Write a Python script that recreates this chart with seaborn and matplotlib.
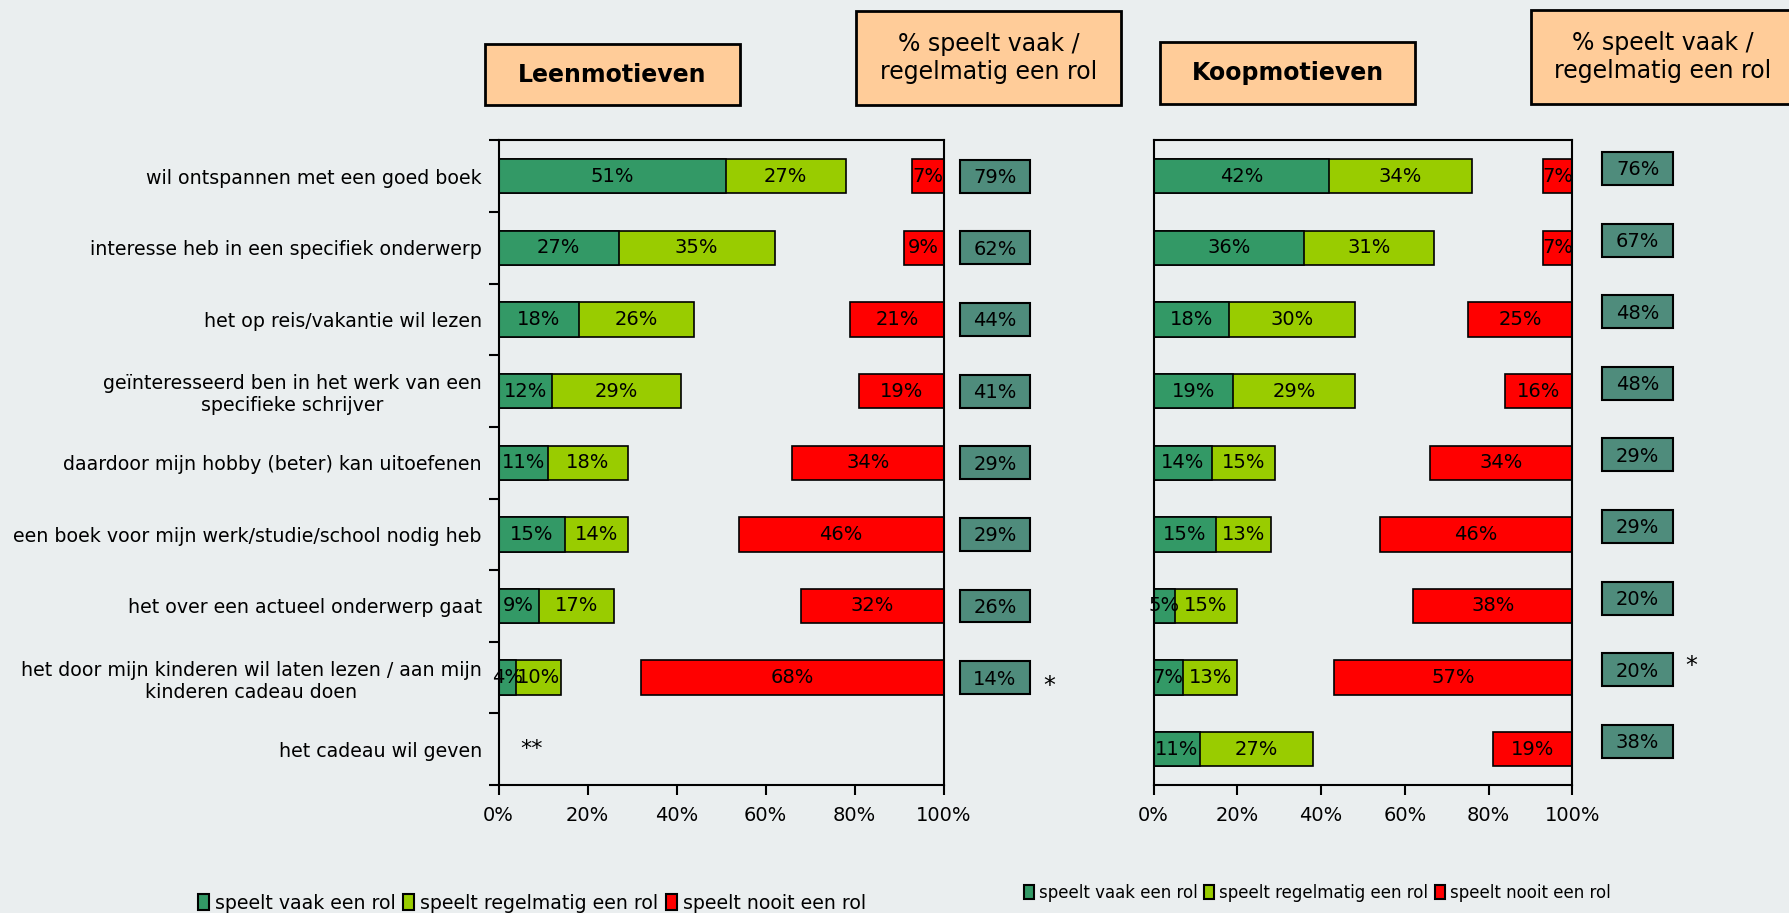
import numpy as np
import pandas as pd
import matplotlib
matplotlib.use("Agg")
import matplotlib.pyplot as plt
import matplotlib.transforms as mtrans
from matplotlib.patches import Rectangle, Patch
import seaborn as sns

# ---------------- data ----------------
categories = [
    "wil ontspannen met een goed boek",
    "interesse heb in een specifiek onderwerp",
    "het op reis/vakantie wil lezen",
    "geïnteresseerd ben in het werk van een\nspecifieke schrijver",
    "daardoor mijn hobby (beter) kan uitoefenen",
    "een boek voor mijn werk/studie/school nodig heb",
    "het over een actueel onderwerp gaat",
    "het door mijn kinderen wil laten lezen / aan mijn\nkinderen cadeau doen",
    "het cadeau wil geven",
]
series_names = ["speelt vaak een rol", "speelt regelmatig een rol", "speelt nooit een rol"]

leen_vaak = [51, 27, 18, 12, 11, 15, 9, 4, np.nan]
leen_regelmatig = [27, 35, 26, 29, 18, 14, 17, 10, np.nan]
leen_nooit = [7, 9, 21, 19, 34, 46, 32, 68, np.nan]
leen_totaal = [79, 62, 44, 41, 29, 29, 26, 14, np.nan]
leen_marks = ["", "", "", "", "", "", "", "*", ""]

koop_vaak = [42, 36, 18, 19, 14, 15, 5, 7, 11]
koop_regelmatig = [34, 31, 30, 29, 15, 13, 15, 13, 27]
koop_nooit = [7, 7, 25, 16, 34, 46, 38, 57, 19]
koop_totaal = [76, 67, 48, 48, 29, 29, 20, 20, 38]
koop_marks = ["", "", "", "", "", "", "", "*", ""]

xticks = [0, 20, 40, 60, 80, 100]
title_leen = "Leenmotieven"
title_koop = "Koopmotieven"
title_summary = "% speelt vaak /\nregelmatig een rol"
no_data_note = "**"

# ---------------- style ----------------
DARK = "#339966"
LIGHT = "#99CC00"
RED = "#FF0000"
SUMM = "#4F8C7C"
PEACH = "#FFCC99"
BG = "#EAEEEF"

sns.set_theme(style="white")
plt.rcParams["font.family"] = ["DejaVu Sans"]
plt.rcParams["text.color"] = "black"
plt.rcParams["xtick.color"] = "black"
plt.rcParams["ytick.color"] = "black"
plt.rcParams["xtick.labelcolor"] = "black"
plt.rcParams["ytick.labelcolor"] = "black"

W, H = 1789, 913
fig = plt.figure(figsize=(W / 100, H / 100), dpi=100, facecolor=BG)


def fx(x):
    return x / W


def fy(y):
    return 1 - y / H


def axes_px(x0, x1, y0, y1):
    return [fx(x0), fy(y1), (x1 - x0) / W, (y1 - y0) / H]


ax_l = fig.add_axes(axes_px(498.6, 943.6, 140.5, 785))
ax_r = fig.add_axes(axes_px(1153.6, 1572.3, 140.5, 785))

BAR_H = 0.48
VAL_FS = 14


def panel(ax, vaak, regel, nooit, totaal, marks, show_labels, box_x0, box_w, box_dy, mark_dy):
    df = pd.DataFrame({"cat": categories, "vaak": vaak, "regel": regel, "nooit": nooit})
    df["cum"] = df["vaak"] + df["regel"]
    ax.set_facecolor(BG)
    sns.barplot(data=df, x="cum", y="cat", order=categories, color=LIGHT, saturation=1,
                width=BAR_H, edgecolor="black", linewidth=1.2, errorbar=None, ax=ax, orient="h")
    sns.barplot(data=df, x="vaak", y="cat", order=categories, color=DARK, saturation=1,
                width=BAR_H, edgecolor="black", linewidth=1.2, errorbar=None, ax=ax, orient="h")
    pos = np.arange(len(categories))
    ax.barh(pos, df["nooit"], left=100 - df["nooit"], height=BAR_H, color=RED,
            edgecolor="black", linewidth=1.2)
    for i, row in df.iterrows():
        if np.isnan(row["vaak"]):
            continue
        ax.text(row["vaak"] / 2, i, f"{int(row['vaak'])}%", ha="center", va="center", fontsize=VAL_FS)
        ax.text(row["vaak"] + row["regel"] / 2, i, f"{int(row['regel'])}%", ha="center", va="center",
                fontsize=VAL_FS)
        ax.text(100 - row["nooit"] / 2, i, f"{int(row['nooit'])}%", ha="center", va="center",
                fontsize=VAL_FS)
    trans = mtrans.blended_transform_factory(ax.transAxes, ax.transData)
    for i, t in enumerate(totaal):
        if np.isnan(t):
            continue
        yc = i + box_dy
        ax.add_patch(Rectangle((box_x0, yc - 0.23), box_w, 0.46, transform=trans, facecolor=SUMM,
                               edgecolor="black", linewidth=1.5, clip_on=False))
        ax.text(box_x0 + box_w / 2, yc + 0.02, f"{int(t)}%", transform=trans, ha="center",
                va="center", fontsize=VAL_FS)
        if marks[i]:
            ax.text(box_x0 + box_w + 0.03, yc + mark_dy, marks[i], transform=trans, ha="left",
                    va="center", fontsize=VAL_FS + 3)
    ax.set_xlim(0, 100)
    ax.set_ylim(len(categories) - 0.5, -0.5)
    ax.set_xticks(xticks)
    ax.set_xticklabels([f"{v}%" for v in xticks], fontsize=14)
    ax.set_xlabel("")
    ax.set_ylabel("")
    ax.tick_params(axis="x", direction="out", length=7, width=1.5, color="black", pad=8, bottom=True,
                   labelcolor="black")
    for s in ax.spines.values():
        s.set_visible(True)
        s.set_color("black")
        s.set_linewidth(1.5)
    if show_labels:
        ax.set_yticks(pos)
        ax.set_yticklabels(categories, fontsize=13.7, multialignment="center", color="black")
        ax.set_yticks(np.arange(len(categories) + 1) - 0.5, minor=True)
        ax.tick_params(axis="y", which="major", length=0, pad=12, labelcolor="black")
        ax.tick_params(axis="y", which="minor", direction="out", length=7, width=1.5, color="black",
                       left=True)
    else:
        ax.set_yticks([])


panel(ax_l, leen_vaak, leen_regelmatig, leen_nooit, leen_totaal, leen_marks, True, 1.037, 0.157,
      0.0, 0.12)
panel(ax_r, koop_vaak, koop_regelmatig, koop_nooit, koop_totaal, koop_marks, False, 1.071, 0.17,
      -0.11, -0.05)

ax_l.text(7.5, 8, no_data_note, ha="center", va="center", fontsize=16)


# ---------------- header boxes ----------------
def header(x0, x1, y0, y1, text, bold, fs):
    fig.add_artist(Rectangle((fx(x0), fy(y1)), (x1 - x0) / W, (y1 - y0) / H, transform=fig.transFigure,
                             facecolor=PEACH, edgecolor="black", linewidth=2, clip_on=False))
    fig.text(fx((x0 + x1) / 2), fy((y0 + y1) / 2), text, ha="center", va="center", fontsize=fs,
             fontweight="bold" if bold else "normal", linespacing=1.2)


header(485, 740, 44, 105, title_leen, True, 17)
header(856, 1121, 11, 105, title_summary, False, 17)
header(1160, 1415, 42, 104, title_koop, True, 17)
header(1531, 1795, 10, 104, title_summary, False, 17)

# ---------------- legends ----------------
handles = [Patch(facecolor=c, edgecolor="black", linewidth=1.5) for c in (DARK, LIGHT, RED)]
fig.legend(handles, series_names, loc="center left", bbox_to_anchor=(fx(190), fy(903)), ncol=3,
           frameon=False, fontsize=13.6, handlelength=0.6, handleheight=0.9, handletextpad=0.3,
           columnspacing=0.4, borderaxespad=0)
fig.legend(handles, series_names, loc="center left", bbox_to_anchor=(fx(1017), fy(893)), ncol=3,
           frameon=False, fontsize=12.0, handlelength=0.6, handleheight=0.9, handletextpad=0.3,
           columnspacing=0.4, borderaxespad=0)

fig.savefig("out.png", dpi=100, facecolor=BG)
